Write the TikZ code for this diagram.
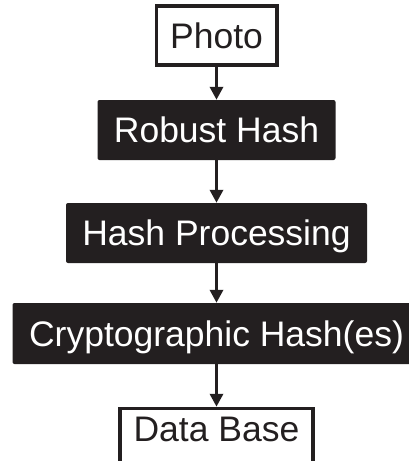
\documentclass[tikz,border=0pt]{standalone}
\usepackage{fontspec}
\setmainfont{Liberation Sans}
\usetikzlibrary{arrows.meta}
\definecolor{boxfill}{HTML}{231F20}
\begin{document}
\begin{tikzpicture}[x=1pt,y=-1pt,
  base/.style={font=\fontsize{35.5}{42}\selectfont, text height=25.4pt, text depth=0pt, inner xsep=0pt, inner ysep=17pt},
  darkbox/.style={base, fill=boxfill, text=white, rounded corners=2pt},
  lightbox/.style={base, draw=boxfill, line width=3.5pt, fill=white, text=boxfill},
  arr/.style={draw=boxfill, line width=3.5pt, -{Triangle[length=13pt,width=13pt]}}]
\useasboundingbox (0,0) rectangle (409,461);
\clip (0,0) rectangle (409,461);
\node[lightbox, minimum width=120.5pt, minimum height=55.5pt] (photo) at (216.5,35.5) {Photo};
\node[darkbox, minimum width=238pt, minimum height=60pt] (robust) at (216.5,130) {Robust Hash};
\node[darkbox, minimum width=301pt, minimum height=60pt] (proc) at (216.5,233) {Hash Processing};
\node[darkbox, minimum width=408pt, minimum height=61pt] (crypto) at (216.5,333.5) {Cryptographic Hash(es)};
\node[lightbox, anchor=north, minimum width=193pt, inner ysep=8pt, text depth=60pt] (db) at (216.5,406.75) {Data Base};
\draw[arr] (photo.south) -- (robust.north);
\draw[arr] (robust.south) -- (proc.north);
\draw[arr] (proc.south) -- (crypto.north);
\draw[arr] (crypto.south) -- (db.north);
\end{tikzpicture}
\end{document}
